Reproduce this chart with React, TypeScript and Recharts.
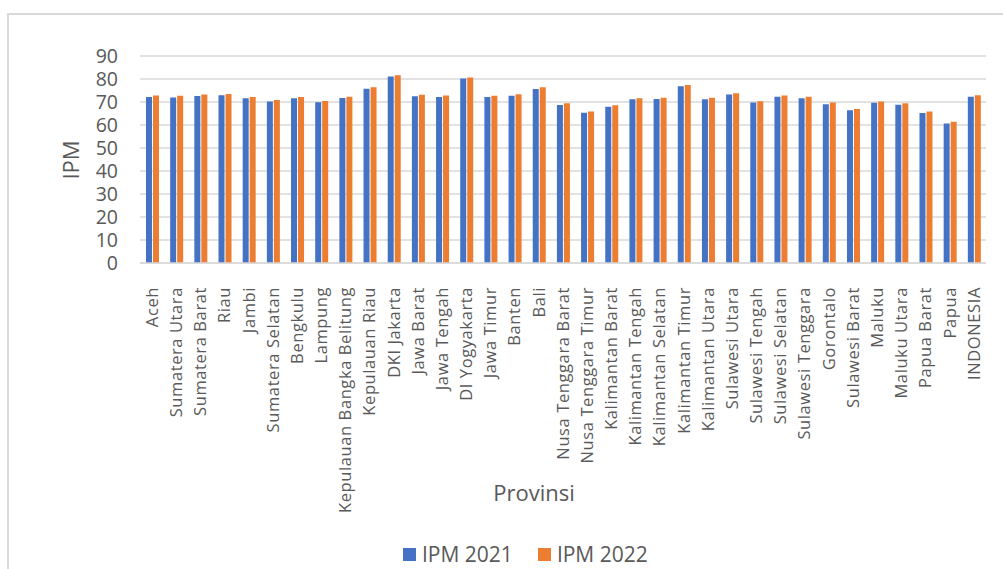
import { BarChart, Bar, XAxis, YAxis, CartesianGrid, Legend } from "recharts";

const provinsi = [
  "Aceh",
  "Sumatera Utara",
  "Sumatera Barat",
  "Riau",
  "Jambi",
  "Sumatera Selatan",
  "Bengkulu",
  "Lampung",
  "Kepulauan Bangka Belitung",
  "Kepulauan Riau",
  "DKI Jakarta",
  "Jawa Barat",
  "Jawa Tengah",
  "DI Yogyakarta",
  "Jawa Timur",
  "Banten",
  "Bali",
  "Nusa Tenggara Barat",
  "Nusa Tenggara Timur",
  "Kalimantan Barat",
  "Kalimantan Tengah",
  "Kalimantan Selatan",
  "Kalimantan Timur",
  "Kalimantan Utara",
  "Sulawesi Utara",
  "Sulawesi Tengah",
  "Sulawesi Selatan",
  "Sulawesi Tenggara",
  "Gorontalo",
  "Sulawesi Barat",
  "Maluku",
  "Maluku Utara",
  "Papua Barat",
  "Papua",
  "INDONESIA",
];

const ipm2021 = [
  72.18, 72.0, 72.65, 72.94, 71.63, 70.24, 71.64, 69.9, 71.69, 75.79, 81.11, 72.45,
  72.16, 80.22, 72.14, 72.72, 75.69, 68.65, 65.28, 67.9, 71.25, 71.28, 76.88, 71.19,
  73.3, 69.79, 72.24, 71.66, 69.0, 66.36, 69.71, 68.76, 65.26, 60.62, 72.29,
];

const ipm2022 = [
  72.8, 72.71, 73.26, 73.52, 72.14, 70.9, 72.16, 70.45, 72.24, 76.46, 81.65, 73.12,
  72.79, 80.64, 72.75, 73.32, 76.44, 69.46, 65.9, 68.63, 71.63, 71.84, 77.44, 71.83,
  73.81, 70.28, 72.82, 72.23, 69.81, 66.92, 70.22, 69.47, 65.89, 61.39, 72.91,
];

const yTicks = [0, 10, 20, 30, 40, 50, 60, 70, 80, 90];

const data = provinsi.map((name, i) => ({
  name,
  ipm2021: ipm2021[i],
  ipm2022: ipm2022[i],
}));

const FONT = "'Open Sans', 'Noto Sans', sans-serif";
const TEXT = "#595959";

// province names run bottom-to-top, ending just under the axis
const ProvTick = ({ x, y, payload }: any) => (
  <text
    x={x}
    y={y + 16}
    transform={`rotate(-90, ${x}, ${y + 16})`}
    textAnchor="end"
    dy="0.35em"
    fontSize={16.5}
    letterSpacing={0.6}
    fontFamily={FONT}
    fill={TEXT}
  >
    {payload.value}
  </text>
);

const LegendBox = () => (
  <div style={{ display: "flex", alignItems: "center", fontFamily: FONT, fontSize: 21, color: TEXT, whiteSpace: "nowrap" }}>
    <span style={{ width: 13, height: 13, background: "#4472C4", display: "inline-block", marginRight: 6 }} />
    <span>IPM 2021</span>
    <span style={{ width: 13, height: 13, background: "#ED7D31", display: "inline-block", marginLeft: 25, marginRight: 6 }} />
    <span>IPM 2022</span>
  </div>
);

export default function App() {
  return (
    <div style={{ position: "absolute", left: 0, top: 0, width: 1003, height: 569, overflow: "hidden", background: "#fff" }}>
      <div
        style={{
          position: "absolute",
          left: 7,
          top: 13,
          width: 1100,
          height: 700,
          border: "2px solid #d9d9d9",
        }}
      />
      <BarChart
        width={1003}
        height={569}
        data={data}
        margin={{ top: 56, right: 17, left: 0, bottom: 0 }}
        barSize={6}
        barGap={1}
        style={{ position: "absolute", left: 0, top: 0 }}
      >
        <CartesianGrid vertical={false} stroke="#d9d9d9" strokeWidth={1.5} />
        <XAxis
          dataKey="name"
          height={306}
          interval={0}
          tick={<ProvTick />}
          tickLine={false}
          axisLine={{ stroke: "#d9d9d9", strokeWidth: 1.5 }}
        />
        <YAxis
          width={140}
          domain={[0, 90]}
          ticks={yTicks}
          interval={0}
          tickLine={false}
          axisLine={false}
          tickSize={0}
          tickMargin={22}
          tick={{ fontSize: 19.5, fontFamily: FONT, fill: TEXT }}
        />
        <Bar dataKey="ipm2021" name="IPM 2021" fill="#4472C4" isAnimationActive={false} />
        <Bar dataKey="ipm2022" name="IPM 2022" fill="#ED7D31" isAnimationActive={false} />
        <Legend
          verticalAlign="middle"
          align="center"
          content={<LegendBox />}
          wrapperStyle={{ top: 540, left: 403, width: 280, height: 26 }}
        />
        <text x={71} y={160} transform="rotate(-90, 71, 160)" textAnchor="middle" dy="0.35em" fontSize={22} fontFamily={FONT} fill={TEXT}>
          IPM
        </text>
        <text x={534} y={493} textAnchor="middle" dy="0.35em" fontSize={22} fontFamily={FONT} fill={TEXT}>
          Provinsi
        </text>
      </BarChart>
    </div>
  );
}
